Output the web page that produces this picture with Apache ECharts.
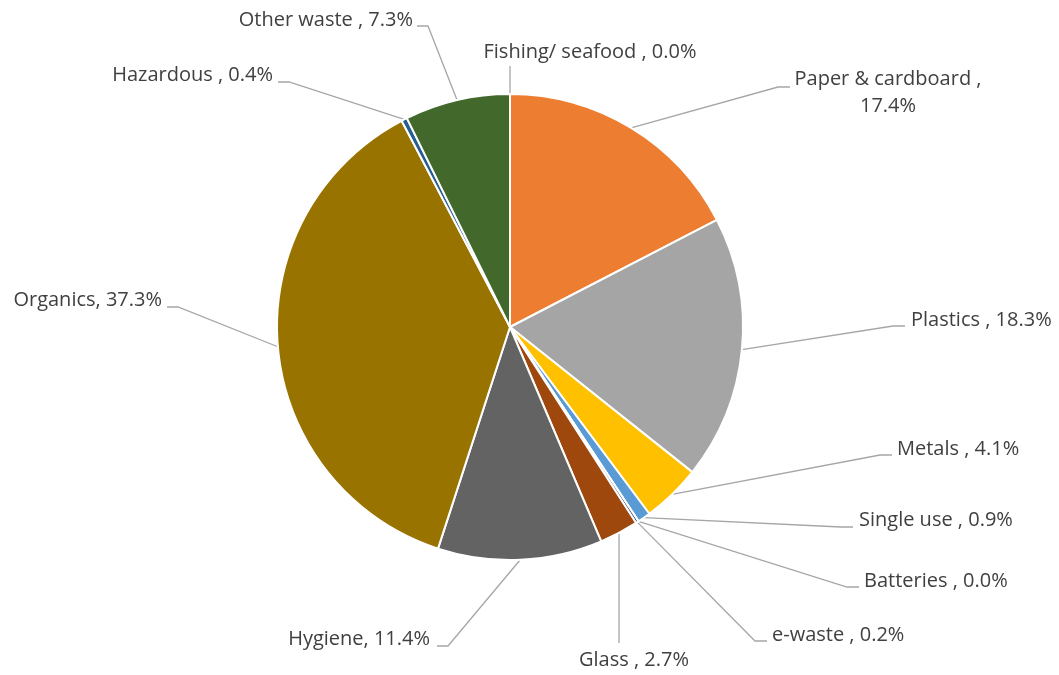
<!DOCTYPE html>
<html>
<head>
<meta charset="utf-8">
<script src="https://cdn.jsdelivr.net/npm/echarts@6/dist/echarts.min.js"></script>
<style>
  html, body { margin: 0; padding: 0; background: #ffffff; }
  #chart { width: 1059px; height: 675px; }
</style>
</head>
<body>
<div id="chart"></div>
<script>
// ---- data ----
const categories = ['Fishing/ seafood ', 'Paper & cardboard ', 'Plastics ', 'Metals ', 'Single use ', 'Batteries ', 'e-waste ', 'Glass ', 'Hygiene', 'Organics', 'Hazardous ', 'Other waste '];
const shares = [0.0, 17.4, 18.3, 4.1, 0.9, 0.0, 0.2, 2.7, 11.4, 37.3, 0.4, 7.3];
const colors = ['#4472C4', '#ED7D31', '#A5A5A5', '#FFC000', '#5B9BD5', '#70AD47', '#264478', '#9E480E', '#636363', '#997300', '#255E91', '#43682B'];

// ---- label placement (layout only) ----
// x, y: text anchor; align; ex, ey: end of leader line; side: where elbow goes relative to end
const labelSpots = [
  { x: 590, y: 52, align: 'center', ex: null, ey: 66, side: 'V' },
  { x: 888, y: 93, align: 'center', ex: 790, ey: 87, side: 'L', wrap: true },
  { x: 911, y: 320, align: 'left', ex: 905, ey: 326, side: 'L' },
  { x: 897, y: 449, align: 'left', ex: 892, ey: 455, side: 'L' },
  { x: 859, y: 520, align: 'left', ex: 853, ey: 527, side: 'L' },
  { x: 864, y: 581, align: 'left', ex: 859, ey: 587, side: 'L' },
  { x: 772, y: 635, align: 'left', ex: 767, ey: 641, side: 'L' },
  { x: 634, y: 660, align: 'center', ex: null, ey: 643, side: 'V' },
  { x: 430, y: 639, align: 'right', ex: 437, ey: 646, side: 'R' },
  { x: 162, y: 300, align: 'right', ex: 167, ey: 307, side: 'R' },
  { x: 273, y: 75, align: 'right', ex: 278, ey: 82, side: 'R' },
  { x: 413, y: 20, align: 'right', ex: 417, ey: 26, side: 'R' }
];

const chart = echarts.init(document.getElementById('chart'), null, { renderer: 'canvas' });

const option = {
  backgroundColor: '#ffffff',
  animation: false,
  series: [{
    type: 'pie',
    center: [510, 327],
    radius: [0, 233],
    startAngle: 90,
    clockwise: true,
    avoidLabelOverlap: false,
    data: categories.map((n, i) => ({ name: n, value: shares[i], itemStyle: { color: colors[i] } })),
    itemStyle: { borderColor: '#ffffff', borderWidth: 2 },
    label: {
      show: true,
      position: 'outside',
      color: '#404040',
      fontFamily: 'Open Sans',
      fontSize: 20,
      lineHeight: 27,
      formatter: function (p) {
        const v = shares[p.dataIndex].toFixed(1) + '%';
        return labelSpots[p.dataIndex].wrap ? p.name + ',\n' + v : p.name + ', ' + v;
      }
    },
    labelLine: {
      show: true,
      length: 10,
      length2: 10,
      smooth: false,
      lineStyle: { color: '#A6A6A6', width: 1.3 }
    },
    labelLayout: function (params) {
      const s = labelSpots[params.dataIndex];
      const start = params.labelLinePoints ? params.labelLinePoints[0] : [510, 327];
      let pts;
      if (s.side === 'V') {
        pts = [start, [start[0], s.ey]];
      } else if (s.side === 'L') {
        pts = [start, [s.ex - 12, s.ey], [s.ex, s.ey]];
      } else {
        pts = [start, [s.ex + 11, s.ey], [s.ex, s.ey]];
      }
      return {
        x: s.x,
        y: s.y,
        align: s.align,
        verticalAlign: 'middle',
        labelLinePoints: pts
      };
    },
    emphasis: { disabled: true }
  }]
};

chart.setOption(option);
</script>
</body>
</html>
